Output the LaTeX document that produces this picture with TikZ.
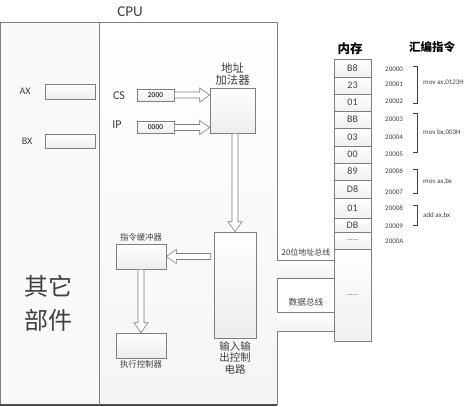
\documentclass[tikz,border=0pt]{standalone}
\usepackage{fontspec}
\setmainfont{Carlito}
\newfontfamily\cjk{Noto Sans CJK SC}
\usetikzlibrary{calc}
\newcommand{\fsz}[1]{\fontsize{#1}{#1}\selectfont}
\definecolor{linegray}{HTML}{7F7F7F}
\definecolor{txtgray}{HTML}{404040}
\begin{document}
\begin{tikzpicture}[x=1pt,y=-1pt,
  box/.style={draw=linegray, line width=0.6pt, top color=white, bottom color=gray!14, inner sep=0pt},
  cell/.style={draw=linegray, line width=0.6pt, top color=white, bottom color=gray!12, inner sep=0pt, minimum width=37pt, font=\fsz{10}, text=txtgray},
  lab/.style={inner sep=0pt, text=txtgray},
  hollow/.style={draw=linegray, fill=white, line width=0.6pt, line join=miter,
    to path={let \p1=(\tikztostart), \p2=(\tikztotarget), \p3=($(\p2)!10pt!(\p1)$) in
      ($(\p1)!3pt!90:(\p2)$) -- ($(\p3)!3pt!90:(\p2)$) -- ($(\p3)!7pt!90:(\p2)$) -- (\p2)
      -- ($(\p3)!7pt!-90:(\p2)$) -- ($(\p3)!3pt!-90:(\p2)$) -- ($(\p1)!3pt!-90:(\p2)$) -- cycle}},
  brk/.style={draw=txtgray, line width=0.5pt}
]
\useasboundingbox (0,0) rectangle (474,407);
\fill[white] (0,0) rectangle (474,407);

% CPU frame
\fill[gray!5] (0.5,22) rectangle (99,405);
\shade[top color=white, bottom color=gray!8] (99,22) rectangle (277,405);
\draw[linegray, line width=0.8pt] (0.5,405) -- (0.5,22) -- (277,22) -- (277,405);
\draw[gray!60!black, line width=1.6pt] (0,405) -- (277.4,405);
\draw[linegray, line width=0.8pt] (99,22) -- (99,405);
\node[lab, font=\fsz{15}] (cpul) at (130,12) {CPU};

% registers
\node[lab, font=\fsz{10}] (axl) at (25,91) {AX};
\node[box, minimum width=50pt, minimum height=15pt] (ax) at (70,91.5) {};
\node[lab, font=\fsz{10}] (bxl) at (27,141) {BX};
\node[box, minimum width=50pt, minimum height=14pt] (bx) at (70,141) {};

\node[lab, font=\fsz{12}] (csl) at (119,96) {CS};
\node[box, minimum width=37pt, minimum height=12pt, font=\fsz{7.5}] (cs) at (155.5,95) {2000};
\node[lab, font=\fsz{12}] (ipl) at (117,125) {IP};
\node[box, minimum width=37pt, minimum height=12pt, font=\fsz{7.5}] (ip) at (155.5,127.5) {0000};

\node[box, minimum width=45pt, minimum height=45pt] (adder) at (232.5,110.5) {};
\node[lab, font=\cjk\fsz{11.5}, align=center, anchor=south] (adderl) at ([yshift=2pt]adder.north) {地址\\[1pt]加法器};

\node[box, minimum width=42pt, minimum height=106pt] (io) at (235,285) {};
\node[lab, font=\cjk\fsz{10.5}, align=center, anchor=north] (iol) at ([yshift=-3pt]io.south) {输入输\\[1pt]出控制\\[1pt]电路};

\node[box, minimum width=50pt, minimum height=25pt] (buf) at (141,256.5) {};
\node[lab, font=\cjk\fsz{8.4}, anchor=south] (bufl) at ([yshift=2pt]buf.north) {指令缓冲器};
\node[box, minimum width=50pt, minimum height=25pt] (exec) at (141,345.5) {};
\node[lab, font=\cjk\fsz{8.4}, anchor=north] (execl) at ([yshift=-2pt]exec.south) {执行控制器};

\node[lab, font=\cjk\fsz{24}, align=center] (other) at (48,303) {其它\\[10pt]部件};

% hollow arrows
\draw[hollow] (cs.east) to (adder.west |- cs.east);
\draw[hollow] (ip.east) to (adder.west |- ip.east);
\draw[hollow] (io.north |- adder.south) to (io.north);
\draw[hollow] ([xshift=-3pt]io.west |- buf.east) to (buf.east);
\draw[hollow] (buf.south) to (exec.north);

% memory
\node[lab, font=\cjk\bfseries\fsz{12.5}, text=black] (meml) at (350,49) {内存};
\node[lab, font=\cjk\bfseries\fsz{11.5}, text=black] (asml) at (432,47) {汇编指令};
\node[cell, minimum height=18pt] (m1) at (352.5,68) {B8};
\node[cell, minimum height=17pt] (m2) at (352.5,85.5) {23};
\node[cell, minimum height=17pt] (m3) at (352.5,102.5) {01};
\node[cell, minimum height=17pt] (m4) at (352.5,119.5) {BB};
\node[cell, minimum height=18pt] (m5) at (352.5,137) {03};
\node[cell, minimum height=17pt] (m6) at (352.5,154.5) {00};
\node[cell, minimum height=17pt] (m7) at (352.5,171.5) {89};
\node[cell, minimum height=18pt] (m8) at (352.5,189) {D8};
\node[cell, minimum height=20pt] (m9) at (352.5,208) {01};
\node[cell, minimum height=14pt] (m10) at (352.5,225) {DB};
\node[cell, minimum height=17pt, font=\fsz{7}] (m11) at (352.5,240.5) {......};
\node[cell, minimum height=92pt, font=\fsz{7}] (m12) at (352.5,295) {......};

% buses
\coordinate (cpuE1) at (277,260);
\coordinate (cpuE2) at (277,278);
\coordinate (cpuE3) at (277,312);
\coordinate (cpuE4) at (277,331);
\shade[top color=white, bottom color=gray!10] (cpuE1) rectangle (cpuE2 -| m12.west);
\shade[top color=white, bottom color=gray!10] (cpuE3) rectangle (cpuE4 -| m12.west);
\draw[linegray, line width=0.7pt] (cpuE1) -- (cpuE1 -| m12.west);
\draw[linegray, line width=0.7pt] (cpuE2) -- (cpuE2 -| m12.west);
\draw[linegray, line width=0.7pt] (cpuE3) -- (cpuE3 -| m12.west);
\draw[linegray, line width=0.7pt] (cpuE4) -- (cpuE4 -| m12.west);
\node[lab, font=\cjk\fsz{8}] (abl) at (306,252) {20位地址总线};
\node[lab, font=\cjk\fsz{8.7}] (dbl) at (306,302) {数据总线};

% addresses
\foreach \a/\y in {20000/69, 20001/84, 20002/101, 20003/119, 20004/137, 20005/154, 20006/171, 20007/192, 20008/208, 20009/226, 2000A/241}
  \node[lab, font=\fsz{7}, anchor=west] (ad\a) at (385,\y) {\a};

% brackets
\draw[brk] (413,66) -- (417,66) -- (417,103) -- (413,103);
\draw[brk] (413,113) -- (417,113) -- (417,152) -- (413,152);
\draw[brk] (413,169) -- (417,169) -- (417,193) -- (413,193);
\draw[brk] (413,205) -- (417,205) -- (417,225) -- (413,225);
\node[lab, font=\fsz{7}, anchor=west] (i1) at (423,83) {mov ax,0123H};
\node[lab, font=\fsz{7}, anchor=west] (i2) at (423,133) {mov bx,003H};
\node[lab, font=\fsz{7}, anchor=west] (i3) at (423,182) {mov ax,bx};
\node[lab, font=\fsz{7}, anchor=west] (i4) at (423,216) {add ax,bx};
\end{tikzpicture}
\end{document}
